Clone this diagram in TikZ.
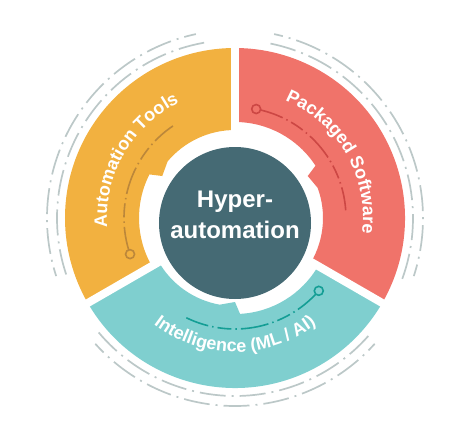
\documentclass[tikz,border=0pt]{standalone}
\usepackage{fontspec}
\setmainfont{Liberation Sans}
\usetikzlibrary{decorations.text}

\definecolor{orangeseg}{HTML}{F2B140}
\definecolor{redseg}{HTML}{F0736A}
\definecolor{tealseg}{HTML}{7FCFCF}
\definecolor{hubcol}{HTML}{456A74}
\definecolor{ringgray}{HTML}{BCC8C8}
\definecolor{orangeline}{HTML}{BC873A}
\definecolor{redline}{HTML}{CC4744}
\definecolor{tealline}{HTML}{149E95}

\newcommand{\lblfont}{\bfseries\fontsize{18}{20}\selectfont}

\tikzset{
  outerdash/.style={draw=ringgray, line width=1.7pt,
    dash pattern=on 26pt off 6pt on 2pt off 6pt},
  trackline/.style={line width=1.6pt,
    dash pattern=on 28pt off 4pt on 1.5pt off 4pt on 14pt off 4pt on 1.5pt off 4pt},
  seglabel/.style={decorate, decoration={text along path, text align=center,
    text color=white, text={|\lblfont|#1}}},
}

\begin{document}
\begin{tikzpicture}[x=1pt,y=1pt]
\useasboundingbox (-235,-208) rectangle (239,218);

% ring segments (start angle / fill / track colour)
\foreach \s/\c/\l in {90/orangeseg/orangeline, -30/redseg/redline, 210/tealseg/tealline}{
  \pgfmathsetmacro\e{\s+120} \pgfmathsetmacro\m{\s+60}
  \pgfmathsetmacro\ma{\m+3} \pgfmathsetmacro\mb{\m-10}
  \pgfmathsetmacro\ta{\m+49} \pgfmathsetmacro\tb{\m-26}
  \pgfmathsetmacro\da{\s+10} \pgfmathsetmacro\db{\e-10}
  \pgfmathsetmacro\dc{\s+12} \pgfmathsetmacro\dd{\e-12}
  \fill[\c] (\s:170) arc[start angle=\s, end angle=\e, radius=170]
    -- (\e:96) arc[start angle=\e, end angle=\ma, radius=96]
    -- (\m:84) -- (\mb:88) arc[start angle=\mb, end angle=\s, radius=88] -- cycle;
  % track with its ring end
  \draw[trackline, \l] (\ta:111) arc[start angle=\ta, end angle=\tb, radius=111];
  \draw[\l, line width=1.6pt, fill=\c] (\ta:111) circle (4.5);
  % dashed rings outside
  \draw[outerdash] (\da:178) arc[start angle=\da, end angle=\db, radius=178];
  \draw[outerdash, dash phase=14pt] (\dc:188) arc[start angle=\dc, end angle=\dd, radius=188];
}

% white gaps
\foreach \g in {90,210,330}
  \draw[white, line width=8pt] (0,0) -- (\g:176);

% centre
\node[circle, fill=hubcol, minimum size=152pt, inner sep=0pt] (hub) at (0,-5) {};
\node[anchor=base, text=white, font=\bfseries\fontsize{24}{31}\selectfont] (hubtop) at (0,11) {Hyper-};
\node[anchor=base, text=white, font=\bfseries\fontsize{24}{31}\selectfont] (hubbot) at (0,-20) {automation};

% labels
\path[seglabel=Automation Tools] (200:128) arc[start angle=200, end angle=100, radius=128];
\path[seglabel=Packaged Software] (80:128) arc[start angle=80, end angle=-20, radius=128];
\path[seglabel=Intelligence (ML / AI)] (215:134) arc[start angle=215, end angle=325, radius=134];
\end{tikzpicture}
\end{document}
